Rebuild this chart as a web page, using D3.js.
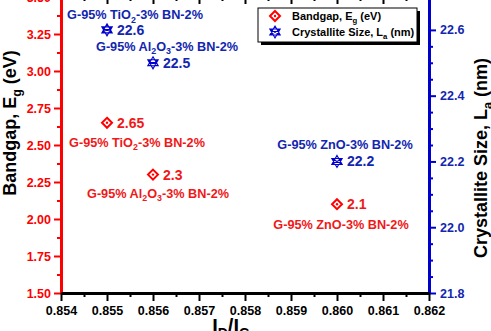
<!DOCTYPE html>
<html><head><meta charset="utf-8">
<script src="https://cdn.jsdelivr.net/npm/d3@7"></script>
<style>
html,body{margin:0;padding:0;background:#fff;}
svg{display:block;font-family:"Liberation Sans",Arial,sans-serif;font-weight:bold;}
</style></head>
<body><svg id="c" width="491" height="331"></svg>
<script>
// ---- data ----
const ratio = [0.855, 0.856, 0.860];              // I_D/I_G
const bandgap = [2.65, 2.3, 2.1];                  // Eg (eV)
const crystallite = [22.6, 22.5, 22.2];            // La (nm)
const compounds = ["TiO2", "Al2O3", "ZnO"];
const bandgapText = ["2.65", "2.3", "2.1"];
const crystText = ["22.6", "22.5", "22.2"];
const xTicks = [0.854, 0.855, 0.856, 0.857, 0.858, 0.859, 0.860, 0.861, 0.862];
const yLeftTicks = [1.50, 1.75, 2.00, 2.25, 2.50, 2.75, 3.00, 3.25, 3.50];
const yRightTicks = [21.8, 22.0, 22.2, 22.4, 22.6];

// ---- layout (pixel offsets of annotations) ----
const redLabelOff = [[30, 24], [5, 23], [4, 25]];
const blueLabelOff = [[28, -10.5], [14, -11.5], [8, -12]];

const RED = "#ff0000", REDT = "#f01818", BLUE = "#0000cc", BLUET = "#1226b0";
const svg = d3.select("#c");
const x = d3.scaleLinear().domain([0.854, 0.862]).range([61, 429]);
const yL = d3.scaleLinear().domain([1.5, 3.5]).range([293, -3]);
const yR = d3.scaleLinear().domain([21.8, 22.7]).range([293, -3]);

function minors(ticks, n) {
  const out = [];
  for (let i = 0; i < ticks.length - 1; i++) {
    const a = ticks[i], b = ticks[i + 1];
    for (let k = 1; k <= n; k++) out.push(a + (b - a) * k / (n + 1));
  }
  return out;
}

function styleAxis(g, color, fs) {
  g.select(".domain").attr("stroke", color).attr("stroke-width", 3);
  g.selectAll(".tick line").attr("stroke", color).attr("stroke-width", 2);
  g.selectAll(".tick text").attr("fill", color).style("font-size", fs + "px").style("font-weight", "bold")
    .style("font-family", "Liberation Sans, Arial, sans-serif");
}

// top axis (ticks inward)
const gTop = svg.append("g").attr("transform", "translate(0,-3)")
  .call(d3.axisTop(x).tickValues(xTicks).tickSize(-7).tickSizeOuter(0).tickFormat(""));
styleAxis(gTop, "#000", 12);
gTop.selectAll(".tick text").remove();
const gTopMin = svg.append("g").attr("transform", "translate(0,-3)")
  .call(d3.axisTop(x).tickValues(minors(xTicks, 1)).tickSize(-4).tickSizeOuter(0).tickFormat(""));
styleAxis(gTopMin, "#000", 12); gTopMin.select(".domain").remove(); gTopMin.selectAll(".tick text").remove();

// left axis
const gL = svg.append("g").attr("transform", "translate(61,0)")
  .call(d3.axisLeft(yL).tickValues(yLeftTicks).tickSize(7).tickSizeOuter(0).tickPadding(3).tickFormat(d3.format(".2f")));
styleAxis(gL, RED, 12.5);
const gLm = svg.append("g").attr("transform", "translate(61,0)")
  .call(d3.axisLeft(yL).tickValues(minors(yLeftTicks, 1)).tickSize(4).tickSizeOuter(0).tickFormat(""));
styleAxis(gLm, RED, 12); gLm.select(".domain").remove(); gLm.selectAll(".tick text").remove();

// right axis
const gR = svg.append("g").attr("transform", "translate(429,0)")
  .call(d3.axisRight(yR).tickValues(yRightTicks).tickSize(7).tickSizeOuter(0).tickPadding(4).tickFormat(d3.format(".1f")));
styleAxis(gR, BLUE, 12.5);
gR.selectAll(".tick text").attr("fill", BLUET);
const gRm = svg.append("g").attr("transform", "translate(429,0)")
  .call(d3.axisRight(yR).tickValues(minors(yRightTicks, 3)).tickSize(4).tickSizeOuter(0).tickFormat(""));
styleAxis(gRm, BLUE, 12); gRm.select(".domain").remove(); gRm.selectAll(".tick text").remove();

// bottom axis
const gB = svg.append("g").attr("transform", "translate(0,293)")
  .call(d3.axisBottom(x).tickValues(xTicks).tickSize(8).tickSizeOuter(0).tickPadding(5).tickFormat(d3.format(".3f")));
styleAxis(gB, "#000", 12.5);
const gBm = svg.append("g").attr("transform", "translate(0,293)")
  .call(d3.axisBottom(x).tickValues(minors(xTicks, 1)).tickSize(4).tickSizeOuter(0).tickFormat(""));
styleAxis(gBm, "#000", 12); gBm.select(".domain").remove(); gBm.selectAll(".tick text").remove();

// text with subscripts
function addSub(t, parts, fs) {
  let cur = 0;
  parts.forEach(p => {
    const target = p.sub ? fs * 0.25 : 0;
    const ts = t.append("tspan").text(p.t);
    if (target !== cur) ts.attr("dy", target - cur);
    if (p.sub) ts.style("font-size", (fs * 0.7) + "px");
    cur = target;
  });
}
const tL = svg.append("text").attr("transform", "translate(16,123) rotate(-90)")
  .attr("text-anchor", "middle").style("font-size", "18px").attr("fill", "#000");
addSub(tL, [{t: "Bandgap, E"}, {t: "g", sub: true}, {t: " (eV)"}], 18);
const tR = svg.append("text").attr("transform", "translate(487,158) rotate(-90)")
  .attr("text-anchor", "middle").style("font-size", "18px").attr("fill", "#000");
addSub(tR, [{t: "Crystallite Size, L"}, {t: "a", sub: true}, {t: " (nm)"}], 18);
const tX = svg.append("text").attr("x", 231).attr("y", 333)
  .attr("text-anchor", "middle").style("font-size", "20px").attr("fill", "#000");
addSub(tX, [{t: "I"}, {t: "D", sub: true}, {t: "/I"}, {t: "G", sub: true}], 20);

// symbols
function diamond(g, cx, cy) {
  g.append("path").attr("d", `M${cx},${cy-5}L${cx+5},${cy}L${cx},${cy+5}L${cx-5},${cy}Z`)
    .attr("fill", "none").attr("stroke", RED).attr("stroke-width", 2);
  g.append("circle").attr("cx", cx).attr("cy", cy).attr("r", 1.2).attr("fill", RED);
}
function hexstar(g, cx, cy) {
  const r = 6, pts = [];
  for (let i = 0; i < 6; i++) {
    const a = (-90 + 60 * i) * Math.PI / 180;
    pts.push([cx + r * Math.cos(a), cy + r * Math.sin(a)]);
  }
  const p = d3.path();
  [[0, 2, 4], [1, 3, 5]].forEach(tri => {
    p.moveTo(...pts[tri[0]]); p.lineTo(...pts[tri[1]]); p.lineTo(...pts[tri[2]]); p.closePath();
  });
  [[1, 4], [2, 5]].forEach(([a, b]) => { p.moveTo(...pts[a]); p.lineTo(...pts[b]); });
  g.append("path").attr("d", p.toString()).attr("fill", "none").attr("stroke", BLUE).attr("stroke-width", 1.1);
}

function compoundLabel(g, xx, yy, comp, color) {
  const t = g.append("text").attr("x", xx).attr("y", yy).attr("text-anchor", "middle")
    .style("font-size", "12.7px").attr("fill", color);
  const parts = [{t: "G-95% "}];
  comp.match(/[A-Za-z]+|\d+/g).forEach(s => parts.push(/\d/.test(s) ? {t: s, sub: true} : {t: s}));
  parts.push({t: "-3% BN-2%"});
  addSub(t, parts, 12.7);
}

const gP = svg.append("g");
ratio.forEach((r, i) => {
  const px = x(r), py = yL(bandgap[i]);
  diamond(gP, px, py);
  gP.append("text").attr("x", px + 10).attr("y", py + 5).style("font-size", "14px").attr("fill", REDT).text(bandgapText[i]);
  compoundLabel(gP, px + redLabelOff[i][0], py + redLabelOff[i][1], compounds[i], REDT);

  const qx = x(r), qy = yR(crystallite[i]);
  hexstar(gP, qx, qy);
  gP.append("text").attr("x", qx + 10).attr("y", qy + 5).style("font-size", "14px").attr("fill", BLUET).text(crystText[i]);
  compoundLabel(gP, qx + blueLabelOff[i][0], qy + blueLabelOff[i][1], compounds[i], BLUET);
});

// legend
const gLeg = svg.append("g");
gLeg.append("rect").attr("x", 261).attr("y", 11).attr("width", 159).attr("height", 34).attr("fill", "#000");
gLeg.append("rect").attr("x", 258).attr("y", 8).attr("width", 159).attr("height", 34)
  .attr("fill", "#fff").attr("stroke", "#000").attr("stroke-width", 1);
diamond(gLeg, 275, 16);
hexstar(gLeg, 275, 32);
const l1 = gLeg.append("text").attr("x", 292).attr("y", 20).style("font-size", "11px").attr("fill", "#000");
addSub(l1, [{t: "Bandgap, E"}, {t: "g", sub: true}, {t: " (eV)"}], 11);
const l2 = gLeg.append("text").attr("x", 292).attr("y", 36).style("font-size", "11px").attr("fill", "#000");
addSub(l2, [{t: "Crystallite Size, L"}, {t: "a", sub: true}, {t: " (nm)"}], 11);
</script></body></html>
